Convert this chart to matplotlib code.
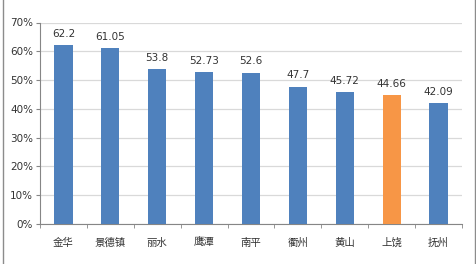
import matplotlib.pyplot as plt
from matplotlib.lines import Line2D
from matplotlib.ticker import FuncFormatter

plt.rcParams['font.family'] = ['Noto Sans CJK SC', 'DejaVu Sans']

cities = ['金华', '景德镇', '丽水', '鹰潭', '南平', '衢州', '黄山', '上饶', '抚州']
values = [62.2, 61.05, 53.8, 52.73, 52.6, 47.7, 45.72, 44.66, 42.09]
highlight = '上饶'

blue = '#4F81BD'
orange = '#F79646'
colors = [orange if c == highlight else blue for c in cities]
text_color = '#333333'

fig = plt.figure(figsize=(4.77, 2.64), dpi=100)
ax = fig.add_axes([40 / 477, 1 - 224 / 264, 422 / 477, (224 - 22.5) / 264])

x = list(range(len(cities)))
ax.bar(x, values, width=0.39, color=colors, zorder=3)

# value labels above the bars
for xi, v in zip(x, values):
    ax.text(xi, v + 2.2, f'{v:g}', ha='center', va='bottom', fontsize=7.5,
            color=text_color, family='DejaVu Sans')

ax.set_xlim(-0.5, len(cities) - 0.5)
ax.set_ylim(0, 70)
ax.set_yticks(range(0, 71, 10))
ax.yaxis.set_major_formatter(FuncFormatter(lambda v, p: f'{int(v)}%'))
ax.set_xticks(x)
ax.set_xticklabels(cities, fontsize=7.5, color=text_color)
ax.set_xticks([i + 0.5 for i in range(-1, len(cities))], minor=True)
ax.tick_params(axis='x', which='major', length=0, pad=10)
ax.tick_params(axis='x', which='minor', length=3, color='#868686')
ax.tick_params(axis='y', length=3, color='#868686', labelsize=7.5, pad=2,
               labelcolor=text_color)
for lab in ax.get_yticklabels():
    lab.set_family('DejaVu Sans')

ax.grid(axis='y', color='#D9D9D9', linewidth=0.9, zorder=0)
for side in ['top', 'right']:
    ax.spines[side].set_visible(False)
for side in ['left', 'bottom']:
    ax.spines[side].set_color('#868686')
    ax.spines[side].set_linewidth(0.8)

# outer frame lines on left and right
for xf in [2.5 / 477, 475 / 477]:
    fig.lines.append(Line2D([xf, xf], [0, 1], transform=fig.transFigure,
                            color='#8C8C8C', linewidth=1.0))

fig.savefig('out.png', dpi=100)
